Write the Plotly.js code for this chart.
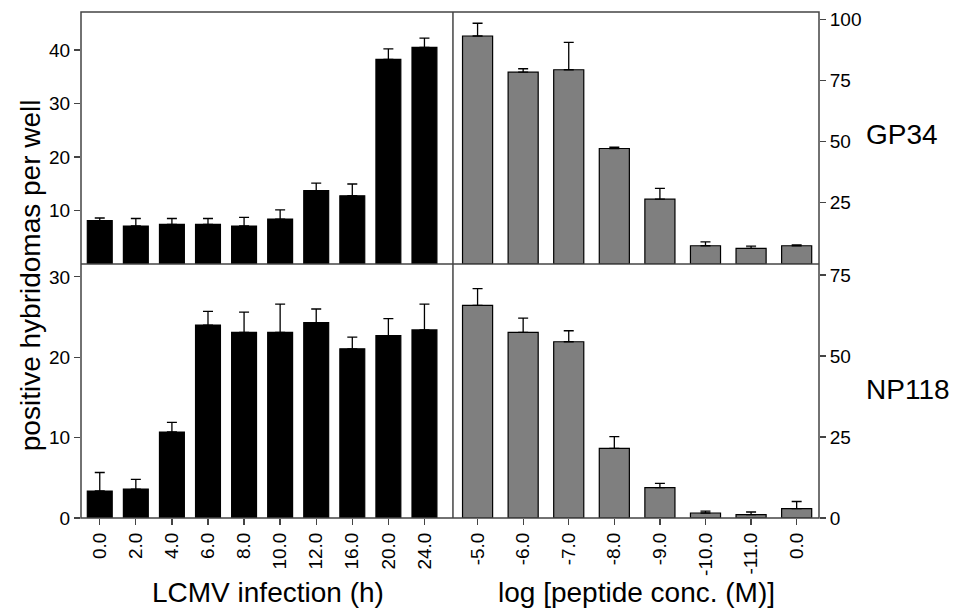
<!DOCTYPE html>
<html>
<head>
<meta charset="utf-8">
<script src="https://cdn.plot.ly/plotly-3.0.1.min.js"></script>
<style>html,body{margin:0;padding:0;background:#fff;}#chart{width:954px;height:609px;}</style>
</head>
<body>
<div id="chart"></div>
<script>
// Categories
const infectionLabels = ["0.0","2.0","4.0","6.0","8.0","10.0","12.0","16.0","20.0","24.0"];
const peptideLabels = ["-5.0","-6.0","-7.0","-8.0","-9.0","-10.0","-11.0","0.0"];

// GP34 (top row)
const gp34Infection = [8.1, 7.1, 7.4, 7.4, 7.1, 8.4, 13.7, 12.75, 38.25, 40.5];
const gp34InfectionErr = [0.5, 1.4, 1.1, 1.1, 1.6, 1.7, 1.4, 2.2, 1.95, 1.7];
const gp34Peptide = [93.2, 78.4, 79.4, 47.2, 26.5, 7.45, 6.35, 7.45];
const gp34PeptideErr = [5.2, 1.4, 11.2, 0.6, 4.4, 1.6, 0.95, 0.4];

// NP118 (bottom row)
const np118Infection = [3.36, 3.6, 10.7, 24.0, 23.1, 23.1, 24.3, 21.05, 22.7, 23.4];
const np118InfectionErr = [2.3, 1.2, 1.2, 1.7, 2.5, 3.5, 1.7, 1.45, 2.1, 3.2];
const np118Peptide = [65.6, 57.3, 54.4, 21.5, 9.4, 1.55, 1.05, 2.9];
const np118PeptideErr = [5.2, 4.4, 3.4, 3.6, 1.3, 0.6, 0.8, 2.2];

const idx = a => a.map((_, i) => i);
const zeros = a => a.map(() => 0);

function barTrace(xLabels, vals, errs, color, width, xa, ya) {
  return {
    type: 'bar', x: idx(xLabels), y: vals, xaxis: xa, yaxis: ya,
    width: width,
    marker: {color: color, line: {color: '#000', width: 1.2}},
    error_y: {type: 'data', symmetric: false, array: errs, arrayminus: zeros(errs),
              color: '#000', thickness: 1.3, width: 5},
    hoverinfo: 'skip', showlegend: false
  };
}

const data = [
  barTrace(infectionLabels, np118Infection, np118InfectionErr, '#000000', 0.69, 'x', 'y'),
  barTrace(peptideLabels, np118Peptide, np118PeptideErr, '#7f7f7f', 0.66, 'x2', 'y2'),
  barTrace(infectionLabels, gp34Infection, gp34InfectionErr, '#000000', 0.69, 'x3', 'y3'),
  barTrace(peptideLabels, gp34Peptide, gp34PeptideErr, '#7f7f7f', 0.66, 'x4', 'y4')
];

const FONT = 'Liberation Sans, Arial, Helvetica, sans-serif';
const tickFont = {family: FONT, size: 19, color: '#000'};
const LINE = '#444';
const xSplit = 0.504, ySplit = 0.502;

function xAxis(dom, labels, range, anchor, show) {
  return {
    domain: dom, range: range, anchor: anchor,
    tickmode: 'array', tickvals: idx(labels), ticktext: labels,
    showticklabels: show, ticks: show ? 'outside' : '', ticklen: 6, tickcolor: LINE, tickwidth: 1.3,
    tickangle: -90, tickfont: tickFont,
    showgrid: false, zeroline: false, showline: false, fixedrange: true
  };
}
function yAxis(dom, range, vals, side, anchor) {
  return {
    domain: dom, range: range, anchor: anchor, side: side,
    tickmode: 'array', tickvals: vals, ticktext: vals.map(String),
    ticks: 'outside', ticklen: 6, tickcolor: LINE, tickwidth: 1.3, tickfont: tickFont,
    showgrid: false, zeroline: false, showline: false, fixedrange: true
  };
}

const layout = {
  width: 954, height: 609,
  margin: {l: 81, r: 135, t: 12, b: 91},
  paper_bgcolor: '#fff', plot_bgcolor: '#fff',
  font: {family: FONT, color: '#000'},
  bargap: 0,
  xaxis: xAxis([0, xSplit], infectionLabels, [-0.52, 9.79], 'y', true),
  xaxis2: xAxis([xSplit, 1], peptideLabels, [-0.54, 7.49], 'y2', true),
  xaxis3: xAxis([0, xSplit], infectionLabels, [-0.52, 9.79], 'y3', false),
  xaxis4: xAxis([xSplit, 1], peptideLabels, [-0.54, 7.49], 'y4', false),
  yaxis: yAxis([0, ySplit], [0, 31.6], [0, 10, 20, 30], 'left', 'x'),
  yaxis2: yAxis([0, ySplit], [0, 78.4], [0, 25, 50, 75], 'right', 'x2'),
  yaxis3: yAxis([ySplit, 1], [0, 47.1], [10, 20, 30, 40], 'left', 'x3'),
  yaxis4: yAxis([ySplit, 1], [0, 103], [25, 50, 75, 100], 'right', 'x4'),
  shapes: [
    {type: 'rect', xref: 'paper', yref: 'paper', x0: 0, x1: 1, y0: 0, y1: 1, line: {color: LINE, width: 1.5}},
    {type: 'line', xref: 'paper', yref: 'paper', x0: xSplit, x1: xSplit, y0: 0, y1: 1, line: {color: LINE, width: 1.5}},
    {type: 'line', xref: 'paper', yref: 'paper', x0: 0, x1: 1, y0: ySplit, y1: ySplit, line: {color: LINE, width: 1.5}}
  ],
  annotations: [
    {text: 'positive hybridomas per well', xref: 'paper', yref: 'paper', x: -0.069, y: 0.48,
     xanchor: 'center', yanchor: 'middle', textangle: -90, showarrow: false,
     font: {family: FONT, size: 28, color: '#000'}},
    {text: 'LCMV infection (h)', xref: 'paper', yref: 'paper', x: 0.253, y: -0.148,
     xanchor: 'center', yanchor: 'middle', showarrow: false,
     font: {family: FONT, size: 28, color: '#000'}},
    {text: 'log [peptide conc. (M)]', xref: 'paper', yref: 'paper', x: 0.753, y: -0.148,
     xanchor: 'center', yanchor: 'middle', showarrow: false,
     font: {family: FONT, size: 28, color: '#000'}},
    {text: 'GP34', xref: 'paper', yref: 'paper', x: 1.061, y: 0.757,
     xanchor: 'left', yanchor: 'middle', showarrow: false,
     font: {family: FONT, size: 28, color: '#000'}},
    {text: 'NP118', xref: 'paper', yref: 'paper', x: 1.061, y: 0.253,
     xanchor: 'left', yanchor: 'middle', showarrow: false,
     font: {family: FONT, size: 28, color: '#000'}}
  ]
};

Plotly.newPlot('chart', data, layout, {staticPlot: true, displayModeBar: false});
</script>
</body>
</html>
